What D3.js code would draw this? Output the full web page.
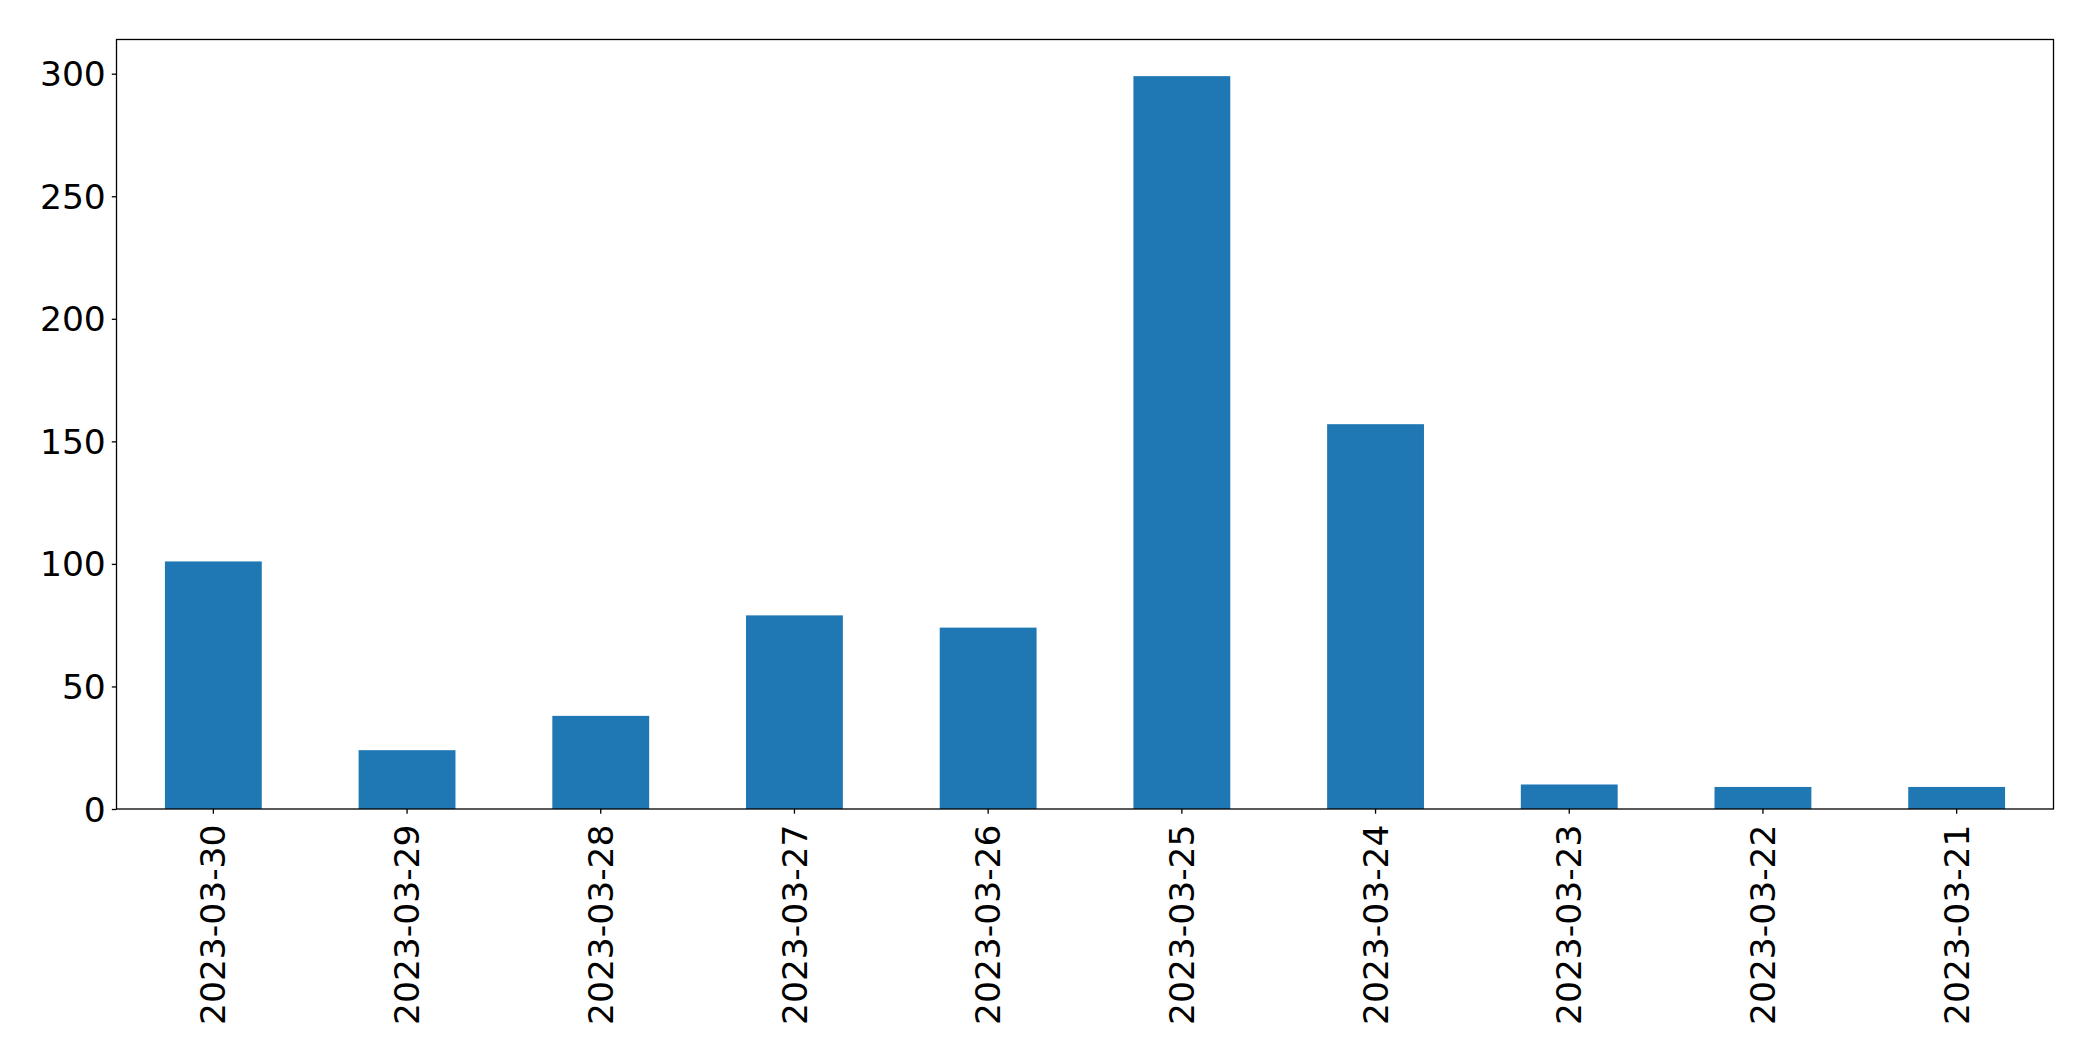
<!DOCTYPE html>
<html>
<head>
<meta charset="utf-8">
<script src="https://cdn.jsdelivr.net/npm/d3@7"></script>
<style>
  html, body { margin: 0; padding: 0; background: #ffffff; }
  svg { display: block; }
  text { font-family: "DejaVu Sans", sans-serif; fill: #000; }
</style>
</head>
<body>
<svg id="chart" width="2093" height="1061"></svg>
<script>
const categories = ["2023-03-30", "2023-03-29", "2023-03-28", "2023-03-27", "2023-03-26",
                    "2023-03-25", "2023-03-24", "2023-03-23", "2023-03-22", "2023-03-21"];
const values = [101, 24, 38, 79, 74, 299, 157, 10, 9, 9];
const yTicks = [0, 50, 100, 150, 200, 250, 300];

const W = 2093, H = 1061;
const margin = { left: 116.5, right: W - 2053.5, top: 39.5, bottom: H - 809 };
const svg = d3.select("#chart");

const x = d3.scaleBand()
  .domain(categories)
  .range([margin.left, W - margin.right])
  .paddingInner(0.5)
  .paddingOuter(0.25);

const y = d3.scaleLinear()
  .domain([0, d3.max(values) * 1.05])
  .range([H - margin.bottom, margin.top]);

// bars
svg.append("g")
  .selectAll("rect")
  .data(values)
  .join("rect")
  .attr("x", (d, i) => x(categories[i]))
  .attr("y", d => y(d))
  .attr("width", x.bandwidth())
  .attr("height", d => y(0) - y(d))
  .attr("fill", "#1f77b4");

const fontSize = 34.5;

// y axis
const yAxis = svg.append("g")
  .attr("transform", `translate(${margin.left},0)`)
  .call(d3.axisLeft(y).tickValues(yTicks).tickSize(4.7).tickPadding(6).tickFormat(d3.format("d")));
yAxis.select(".domain").remove();
yAxis.selectAll("line").attr("stroke", "#000").attr("stroke-width", 1.3);
yAxis.selectAll("text")
  .style("font-size", fontSize + "px")
  .style("font-family", "DejaVu Sans, sans-serif")
  .attr("dy", "0.35em");

// x axis
const xAxis = svg.append("g")
  .attr("transform", `translate(0,${H - margin.bottom})`)
  .call(d3.axisBottom(x).tickSize(4.7).tickPadding(0));
xAxis.select(".domain").remove();
xAxis.selectAll("line").attr("stroke", "#000").attr("stroke-width", 1.3);
xAxis.selectAll("text")
  .style("font-size", fontSize + "px")
  .style("font-family", "DejaVu Sans, sans-serif")
  .attr("text-anchor", "end")
  .attr("dy", "0.35em")
  .attr("transform", "translate(0,15.5) rotate(-90)")
  .attr("x", 0)
  .attr("y", 0);

// frame (spines)
svg.append("rect")
  .attr("x", margin.left)
  .attr("y", margin.top)
  .attr("width", W - margin.right - margin.left)
  .attr("height", H - margin.bottom - margin.top)
  .attr("fill", "none")
  .attr("stroke", "#000")
  .attr("stroke-width", 1.3);
</script>
</body>
</html>
